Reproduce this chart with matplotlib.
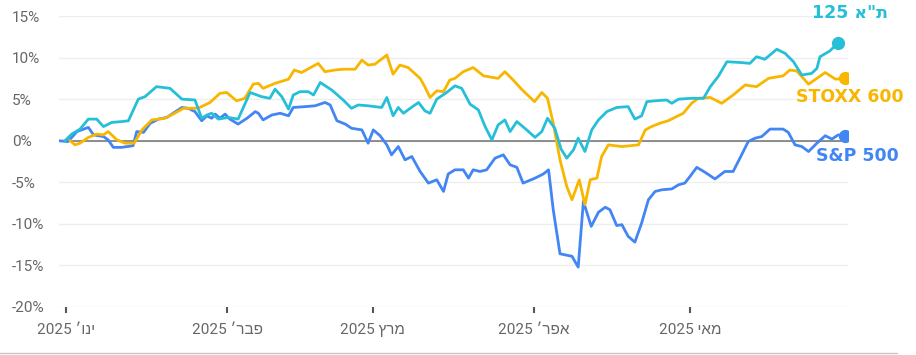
import numpy as np
import matplotlib
matplotlib.use("Agg")
import matplotlib.pyplot as plt
import matplotlib.dates as mdates
from matplotlib.lines import Line2D

# cumulative return since start of 2025 (%), x = days since 1 Jan 2025
ta_day = [-0.2, 1.1, 2.7, 4.3, 5.9, 7.2, 8.8, 10.7, 12.0, 13.9, 15.2, 17.4, 20.0, 22.3, 24.8,
          26.1, 27.1, 28.0, 29.3, 31.2, 33.1, 35.4, 37.6, 39.2, 40.2, 41.5, 42.8, 43.7, 45.0,
          46.6, 47.6, 48.9, 51.1, 53.3, 54.9, 56.2, 58.1, 60.7, 61.7, 62.9, 63.9, 64.9, 66.2,
          67.8, 69.0, 70.0, 71.3, 73.2, 74.8, 76.1, 77.7, 79.3, 80.6, 81.9, 83.1, 84.4, 85.4,
          86.7, 88.6, 90.2, 91.5, 92.6, 94.0, 95.2, 96.3, 97.6, 98.5, 99.8, 101.1, 102.4, 104.0,
          105.9, 108.1, 109.4, 110.7, 111.7, 113.3, 115.5, 116.5, 117.8, 120.3, 122.6, 123.9,
          125.4, 127.1, 129.9, 131.5, 132.8, 134.4, 136.7, 138.3, 139.9, 141.5, 143.4, 144.4,
          145.0, 146.9, 148.5]
ta_val = [0.0, 0.8, 1.4, 2.6, 2.6, 1.7, 2.2, 2.3, 2.4, 5.0, 5.3, 6.5, 6.3, 5.0, 4.9,
          2.7, 3.1, 3.3, 2.6, 2.8, 2.6, 5.8, 5.3, 5.1, 6.2, 5.3, 3.8, 5.5, 5.9,
          5.9, 5.5, 7.0, 6.1, 4.9, 3.9, 4.3, 4.2, 4.0, 5.2, 3.0, 4.0, 3.3, 3.9,
          4.6, 3.6, 3.3, 5.0, 5.8, 6.6, 6.3, 4.4, 3.7, 1.7, 0.1, 1.9, 2.5, 1.1,
          2.3, 1.3, 0.4, 1.1, 2.7, 1.5, -1.0, -2.1, -1.1, 0.3, -1.3, 1.3, 2.5, 3.5,
          4.0, 4.1, 2.6, 3.0, 4.7, 4.8, 4.9, 4.5, 5.0, 5.1, 5.1, 6.5,
          7.7, 9.5, 9.4, 9.3, 10.1, 9.8, 11.0, 10.5, 9.5, 7.9, 8.1, 8.7,
          10.1, 10.8, 11.8]

st_day = [0.8, 1.7, 2.7, 4.3, 5.9, 7.2, 8.1, 9.8, 11.4, 13.1, 14.6, 16.5, 19.0, 20.6, 22.6,
          25.4, 27.7, 29.6, 30.9, 32.8, 34.4, 36.0, 37.0, 37.9, 40.2, 42.8, 43.9, 45.3, 48.5,
          49.8, 51.7, 53.3, 55.6, 56.9, 58.1, 59.4, 61.7, 62.9, 64.2, 65.8, 68.1, 69.0, 70.0,
          71.3, 72.6, 73.8, 74.8, 76.4, 78.3, 80.3, 83.1, 84.4, 86.0, 87.6, 90.1, 91.5, 92.6,
          93.7, 95.0, 96.3, 97.3, 98.7, 99.8, 100.8, 102.1, 103.0, 104.3, 106.9, 110.1, 111.4,
          112.6, 114.2, 115.8, 118.7, 120.3, 121.6, 123.9, 126.1, 128.3, 130.6, 132.8, 135.1,
          137.9, 139.2, 140.5, 142.8, 144.4, 146.0, 148.0, 149.8]
st_val = [0.0, -0.5, -0.3, 0.4, 0.8, 0.7, 1.1, 0.1, -0.3, -0.3, 1.3, 2.5, 2.7, 3.2, 3.9,
          3.9, 4.6, 5.7, 5.8, 4.8, 5.1, 6.8, 6.9, 6.3, 6.9, 7.4, 8.5, 8.2, 9.3,
          8.3, 8.5, 8.6, 8.6, 9.7, 9.1, 9.2, 10.3, 8.0, 9.1, 8.8, 7.5, 6.5, 5.2,
          6.0, 5.9, 7.3, 7.5, 8.3, 8.8, 7.8, 7.5, 8.3, 7.3, 6.2, 4.7, 5.8, 5.1,
          2.1, -2.3, -5.5, -7.1, -4.7, -7.7, -4.7, -4.5, -1.9, -0.5, -0.7, -0.5, 1.3,
          1.7, 2.1, 2.4, 3.3, 4.5, 5.1, 5.2, 4.5, 5.5, 6.7, 6.5, 7.5,
          7.8, 8.5, 8.4, 6.8, 7.5, 8.2, 7.4, 7.5]

sp_day = [-1.5, 0.4, 2.1, 4.3, 5.3, 7.2, 8.1, 9.1, 10.7, 12.9, 13.6, 14.9, 16.2, 17.8, 19.4,
          20.6, 22.3, 23.5, 24.8, 26.1, 27.1, 28.0, 28.7, 29.6, 30.6, 31.5, 33.1, 34.8, 36.4,
          37.0, 37.9, 39.6, 41.2, 42.8, 43.7, 46.0, 47.9, 49.8, 50.8, 52.1, 53.7, 54.9, 56.9,
          58.1, 59.1, 60.4, 61.7, 62.6, 63.9, 65.2, 66.5, 68.1, 69.7, 71.3, 72.6, 73.5, 74.8,
          76.4, 77.4, 78.3, 79.6, 80.9, 82.5, 84.1, 85.4, 86.7, 87.9, 90.2, 91.8, 92.8, 93.7,
          95.0, 97.3, 98.5, 99.5, 101.0, 102.4, 103.7, 104.6, 105.9, 106.9, 108.1, 109.4,
          110.7, 112.0, 113.3, 114.6, 116.5, 117.8, 119.0, 120.0, 121.3, 122.9, 124.8, 126.7,
          128.3, 129.6, 131.2, 132.5, 133.8, 135.4, 137.9, 138.9, 140.2, 141.5, 142.8, 144.4,
          146.0, 147.3, 148.5, 149.8]
sp_val = [0.0, -0.1, 1.1, 1.6, 0.7, 0.5, 0.1, -0.8, -0.8, -0.6, 1.1, 1.0, 2.1, 2.6, 2.8,
          3.3, 4.0, 3.9, 3.5, 2.4, 3.0, 2.7, 3.2, 2.7, 3.2, 2.6, 2.0, 2.7, 3.5,
          3.3, 2.5, 3.1, 3.3, 3.0, 4.0, 4.1, 4.2, 4.6, 4.3, 2.4, 2.0, 1.5, 1.3,
          -0.3, 1.3, 0.6, -0.5, -1.7, -0.7, -2.3, -1.9, -3.7, -5.1, -4.7, -6.1, -4.0, -3.5,
          -3.5, -4.5, -3.5, -3.7, -3.5, -2.1, -1.7, -2.9, -3.2, -5.1, -4.5, -4.0, -3.5, -8.3,
          -13.6, -13.9, -15.2, -7.3, -10.3, -8.6, -8.0, -8.3, -10.2, -10.1, -11.5, -12.2,
          -9.9, -7.1, -6.1, -5.9, -5.8, -5.3, -5.1, -4.3, -3.2, -3.8, -4.6, -3.7,
          -3.7, -2.1, -0.1, 0.3, 0.5, 1.4, 1.4, 1.0, -0.5, -0.7, -1.3, -0.3,
          0.6, 0.2, 0.7, 0.6]

month_days = [0, 31, 59, 90, 120]
# Hebrew month names written in visual (left-to-right) order
month_labels = ["2025 \u05f3\u05d5\u05e0\u05d9", "2025 \u05f3\u05e8\u05d1\u05e4",
                "2025 \u05e5\u05e8\u05de", "2025 \u05f3\u05e8\u05e4\u05d0",
                "2025 \u05d9\u05d0\u05de"]
y_ticks = [-20, -15, -10, -5, 0, 5, 10, 15]

series_names = ['125 \u05d0"\u05ea', "STOXX 600", "S&P 500"]
colors = ["#26bfd8", "#f9b600", "#4285f4"]

W, H = 916, 355
fig = plt.figure(figsize=(W / 100, H / 100), dpi=100)
ax = fig.add_axes([59 / W, 1 - 307 / H, (848 - 59) / W, (307 - 16) / H])

base = mdates.date2num(np.datetime64("2025-01-01"))
tick_font = ["Roboto", "Liberation Sans", "DejaVu Sans"]

ax.axhline(0, color="#8c8c8c", lw=1.4, xmax=0.99, zorder=1)
for days, vals, c in [(sp_day, sp_val, colors[2]), (st_day, st_val, colors[1]),
                      (ta_day, ta_val, colors[0])]:
    x = base + np.array(days)
    ax.plot(x, vals, color=c, lw=2.0, solid_joinstyle="round", zorder=3)
    ax.plot(x[-1], vals[-1], "o", color=c, ms=8.5, zorder=4)

ax.set_ylim(-20, 15)
ax.set_xlim(base + (59 - 66) / 5.2, base + (848 - 66) / 5.2)
ax.set_yticks(y_ticks)
ax.set_yticklabels([f"{v}%" for v in y_ticks], family=tick_font, fontsize=11,
                   color="#666666", ha="left")
ax.tick_params(axis="y", length=0, pad=34)
ax.set_xticks([base + d for d in month_days])
ax.set_xticklabels(month_labels, family=tick_font, fontsize=11, color="#666666")
ax.tick_params(axis="x", length=4.5, width=1.5, color="#555555", pad=7)
ax.yaxis.grid(True, color="#eeeeee", lw=1)
ax.set_axisbelow(True)
for s in ax.spines.values():
    s.set_visible(False)

# series labels at the right
fig.text(850 / W, 1 - 13 / H, series_names[0], color=colors[0], fontsize=12.5,
         fontweight="bold", ha="center", va="center", family="DejaVu Sans")
fig.text(850 / W, 1 - 97 / H, series_names[1], color=colors[1], fontsize=12.5,
         fontweight="bold", ha="center", va="center", family="DejaVu Sans")
fig.text(857 / W, 1 - 156 / H, series_names[2], color=colors[2], fontsize=12.5,
         fontweight="bold", ha="center", va="center", family="DejaVu Sans")

fig.add_artist(Line2D([0, 897 / W], [1 - 352.5 / H] * 2, color="#c8c8c8", lw=1))

fig.savefig("out.png", dpi=100)
